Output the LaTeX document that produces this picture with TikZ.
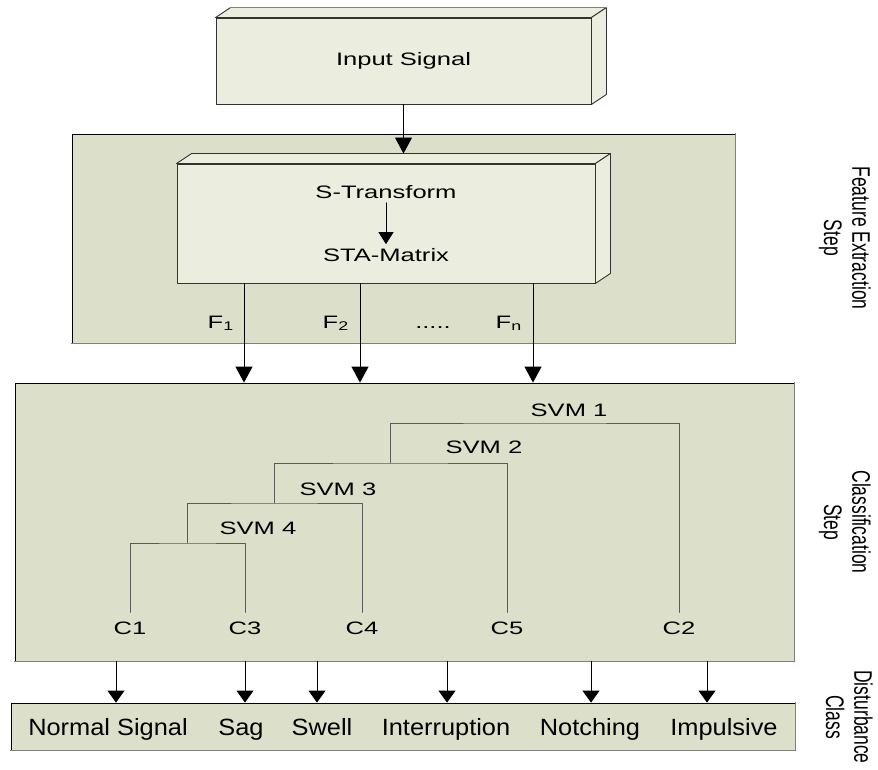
\documentclass[tikz,border=0pt]{standalone}
\usepackage{graphicx}
\usepackage{fontspec}
\setmainfont{Liberation Sans}
\newfontfamily\widefont[FakeStretch=1.42]{Liberation Sans}
\newfontfamily\classfont[FakeStretch=1.08]{Liberation Sans}
\usetikzlibrary{arrows.meta,calc,positioning}
\definecolor{panelfill}{HTML}{DCE0CA}
\definecolor{boxfill}{HTML}{EBEEDF}
\definecolor{edgegray}{HTML}{808080}
\definecolor{treegray}{HTML}{5A5A5A}

\begin{document}
\begin{tikzpicture}[x=1pt,y=-1pt, line cap=round, line join=round,
  txt/.style={font=\widefont\fontsize{18}{21}\selectfont, inner sep=2pt},
  classtxt/.style={font=\classfont\fontsize{23.5}{26}\selectfont, inner sep=2pt},
  sidelabel/.style={rotate=-90, font=\fontsize{17.5}{19.5}\selectfont, inner sep=0pt},
  panel/.style={draw=black, line width=0.8pt, fill=panelfill, inner sep=0pt},
  front/.style={draw=black!80, line width=0.9pt, fill=boxfill},
  face/.style={draw=black!80, line width=0.9pt, fill=boxfill},
  shadowedge/.style={draw=edgegray, line width=1.6pt},
  bigarrow/.style={draw=black, line width=0.9pt, -{Triangle[width=17pt,length=16pt]}},
  midarrow/.style={draw=black, line width=0.9pt, -{Triangle[width=15pt,length=12pt]}},
  lowarrow/.style={draw=black, line width=0.9pt, -{Triangle[width=17pt,length=12pt]}},
  tree/.style={draw=treegray, line width=0.9pt}]
\useasboundingbox (0,0) rectangle (878,770);

% input block
\node[front, txt, minimum width=375pt, minimum height=86pt] (input) at (403.5,61) {Input Signal};
\path[face] (input.north west) -- ++(15,-10) -- ($(input.north east)+(15,-10)$) -- (input.north east) -- cycle;
\path[face] (input.north east) -- ++(15,-10) -- ($(input.south east)+(15,-10)$) -- (input.south east) -- cycle;
\draw[edgegray, line width=1.4pt] ($(input.north west)+(15,-10)$) -- ($(input.north east)+(15,-10)$);

% feature extraction step
\node[panel, minimum width=663pt, minimum height=209pt] (feat) at (403.5,238.5) {};
\draw[shadowedge] (feat.north east) -- (feat.south east) -- (feat.south west);
\node[front, minimum width=418pt, minimum height=119pt] (inner) at (386,223.5) {};
\path[face] (inner.north west) -- ++(15,-10) -- ($(inner.north east)+(15,-10)$) -- (inner.north east) -- cycle;
\path[face] (inner.north east) -- ++(15,-10) -- ($(inner.south east)+(15,-10)$) -- (inner.south east) -- cycle;
\coordinate (innerback) at ($(inner.north)+(0,-10)$);
\node[txt] (strans) at (386,192) {S-Transform};
\node[txt] (sta) at (386,255) {STA-Matrix};
\draw[midarrow, shorten <=2pt, shorten >=2pt] (strans) -- (sta);
\draw[bigarrow] (input.south) -- (input.south |- innerback);

\node[txt, anchor=base east] (fone) at (236,328) {F\textsubscript{1}};
\node[txt, anchor=base east] (ftwo) at (351,328) {F\textsubscript{2}};
\node[txt, anchor=base] (fdots) at (433,328) {.....};
\node[txt, anchor=base east] (fn) at (524,328) {F\textsubscript{n}};

% classification step
\node[panel, minimum width=779pt, minimum height=278pt] (class) at (404.5,522) {};
\draw[shadowedge] (class.north east) -- (class.south east) -- (class.south west);

\foreach \x [count=\i] in {244,360,533} \coordinate (f\i) at (\x,330);
\foreach \i in {1,2,3} \draw[bigarrow] (f\i |- inner.south) -- (f\i |- class.north);

\node[txt] (svm1) at (569,410) {SVM 1};
\node[txt] (svm2) at (484,447) {SVM 2};
\node[txt] (svm3) at (338,489) {SVM 3};
\node[txt] (svm4) at (258,528) {SVM 4};

\foreach \x/\n in {130/1, 245/3, 362/4, 507/5, 679/2}
  \node[txt] (c\n) at (\x,628) {C\n};

\coordinate (j4) at (187,543);
\coordinate (j3) at (274,503);
\coordinate (j2) at (390,463);
\coordinate (j1) at (535,423);
\draw[tree, shorten <=7pt, shorten >=7pt] (c1.north) |- (j4) -| (c3.north);
\draw[tree, shorten >=7pt] (j4) |- (j3) -| (c4.north);
\draw[tree, shorten >=7pt] (j3) |- (j2) -| (c5.north);
\draw[tree, shorten >=7pt] (j2) |- (j1) -| (c2.north);

% disturbance class
\node[panel, minimum width=784pt, minimum height=47pt] (dist) at (403,726.5) {};
\draw[shadowedge] (dist.north east) -- (dist.south east) -- (dist.south west);
\node[classtxt, anchor=base] (normal) at (108,735) {Normal Signal};
\node[classtxt, anchor=base] (sag) at (241,735) {Sag};
\node[classtxt, anchor=base] (swell) at (322,735) {Swell};
\node[classtxt, anchor=base] (interrupt) at (446,735) {Interruption};
\node[classtxt, anchor=base] (notch) at (590,735) {Notching};
\node[classtxt, anchor=base] (impulse) at (724,735) {Impulsive};

\foreach \x [count=\i] in {116,245,317,447,591,707} \coordinate (d\i) at (\x,680);
\foreach \i in {1,...,6} \draw[lowarrow] (d\i |- class.south) -- (d\i |- dist.north);

% step labels
\node[sidelabel] (featlbl) at (844,238) {\scalebox{1}[1.45]{\begin{tabular}{@{}c@{}}Feature Extraction\\Step\end{tabular}}};
\node[sidelabel] (classlbl) at (844,522) {\scalebox{1}[1.45]{\begin{tabular}{@{}c@{}}Classification\\Step\end{tabular}}};
\node[sidelabel] (distlbl) at (846,717) {\scalebox{1}[1.45]{\begin{tabular}{@{}c@{}}Disturbance\\Class\end{tabular}}};
\end{tikzpicture}
\end{document}
